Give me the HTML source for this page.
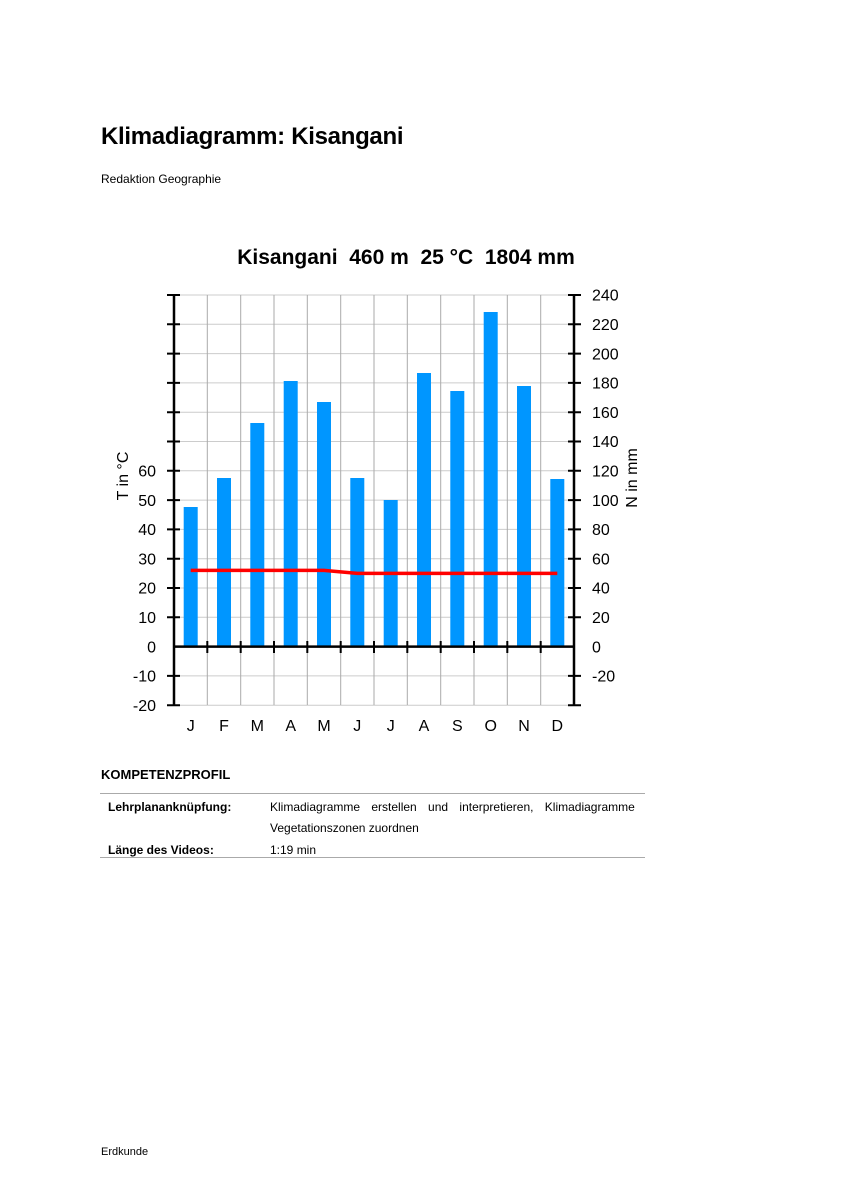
<!DOCTYPE html>
<html><head><meta charset="utf-8"><style>
body{margin:0;background:#fff;font-family:"Liberation Sans",sans-serif;}
.p{position:relative;width:849px;height:1200px;overflow:hidden;}
.a{position:absolute;white-space:nowrap;}
</style></head><body><div class="p">
<div class="a" style="left:101px;top:123px;font-size:24px;font-weight:bold;letter-spacing:-0.3px;">Klimadiagramm: Kisangani</div>
<div class="a" style="left:101px;top:172px;font-size:12px;">Redaktion Geographie</div>
<div class="a" style="left:101px;top:767px;font-size:13px;font-weight:bold;">KOMPETENZPROFIL</div>
<div class="a" style="left:100px;top:793px;width:545px;border-top:1px solid #aaa;"></div>
<div class="a" style="left:108px;top:800px;font-size:12px;font-weight:bold;">Lehrplananknüpfung:</div>
<div class="a" style="left:270px;top:800px;font-size:12px;word-spacing:8px;">Klimadiagramme erstellen und interpretieren, Klimadiagramme</div>
<div class="a" style="left:270px;top:821px;font-size:12px;">Vegetationszonen zuordnen</div>
<div class="a" style="left:108px;top:843px;font-size:12px;font-weight:bold;">Länge des Videos:</div>
<div class="a" style="left:270px;top:843px;font-size:12px;">1:19 min</div>
<div class="a" style="left:100px;top:857px;width:545px;border-top:1px solid #aaa;"></div>
<div class="a" style="left:101px;top:1146px;font-size:11px;">Erdkunde</div>
<svg class="a" style="left:0;top:0" width="849" height="1200" font-family="Liberation Sans, sans-serif">
<text x="406" y="264" font-size="21" font-weight="bold" text-anchor="middle" style="white-space:pre" xml:space="preserve">Kisangani  460 m  25 °C  1804 mm</text>
<g stroke="#ccc" stroke-width="1">
<line x1="174" x2="574" y1="295" y2="295"/><line x1="174" x2="574" y1="324.3" y2="324.3"/><line x1="174" x2="574" y1="353.6" y2="353.6"/><line x1="174" x2="574" y1="382.9" y2="382.9"/><line x1="174" x2="574" y1="412.2" y2="412.2"/><line x1="174" x2="574" y1="441.5" y2="441.5"/><line x1="174" x2="574" y1="470.8" y2="470.8"/><line x1="174" x2="574" y1="500.1" y2="500.1"/><line x1="174" x2="574" y1="529.4" y2="529.4"/><line x1="174" x2="574" y1="558.7" y2="558.7"/><line x1="174" x2="574" y1="588" y2="588"/><line x1="174" x2="574" y1="617.3" y2="617.3"/><line x1="174" x2="574" y1="675.9" y2="675.9"/><line x1="174" x2="574" y1="705.2" y2="705.2"/>
</g>
<g stroke="#aaa" stroke-width="1">
<line y1="295" y2="705" x1="207.3" x2="207.3"/><line y1="295" y2="705" x1="240.7" x2="240.7"/><line y1="295" y2="705" x1="274" x2="274"/><line y1="295" y2="705" x1="307.3" x2="307.3"/><line y1="295" y2="705" x1="340.7" x2="340.7"/><line y1="295" y2="705" x1="374" x2="374"/><line y1="295" y2="705" x1="407.3" x2="407.3"/><line y1="295" y2="705" x1="440.7" x2="440.7"/><line y1="295" y2="705" x1="474" x2="474"/><line y1="295" y2="705" x1="507.3" x2="507.3"/><line y1="295" y2="705" x1="540.7" x2="540.7"/>
</g>
<g fill="#0096ff">
<rect x="183.7" y="507" width="14" height="139.6"/><rect x="217" y="478" width="14" height="168.6"/><rect x="250.3" y="423" width="14" height="223.6"/><rect x="283.7" y="381" width="14" height="265.6"/><rect x="317" y="402" width="14" height="244.6"/><rect x="350.3" y="478" width="14" height="168.6"/><rect x="383.7" y="500" width="14" height="146.6"/><rect x="417" y="373" width="14" height="273.6"/><rect x="450.3" y="391" width="14" height="255.6"/><rect x="483.7" y="312" width="14" height="334.6"/><rect x="517" y="386" width="14" height="260.6"/><rect x="550.3" y="479" width="14" height="167.6"/>
</g>
<polyline points="190.7,570.4 324,570.4 357.3,573.4 557.3,573.4" fill="none" stroke="#f00" stroke-width="3.5"/>
<g stroke="#000" stroke-width="2.5">
<line x1="174" x2="174" y1="294" y2="706"/><line x1="574" x2="574" y1="294" y2="706"/><line x1="174" x2="574" y1="646.6" y2="646.6"/>
</g>
<g stroke="#000" stroke-width="2">
<path d="M167 295h13M167 324.3h13M167 353.6h13M167 382.9h13M167 412.2h13M167 441.5h13M167 470.8h13M167 500.1h13M167 529.4h13M167 558.7h13M167 588h13M167 617.3h13M167 675.9h13M167 705.2h13"/>
<path d="M568 295h13M568 324.3h13M568 353.6h13M568 382.9h13M568 412.2h13M568 441.5h13M568 470.8h13M568 500.1h13M568 529.4h13M568 558.7h13M568 588h13M568 617.3h13M568 675.9h13M568 705.2h13"/>
<path d="M207.3 641v12M240.7 641v12M274 641v12M307.3 641v12M340.7 641v12M374 641v12M407.3 641v12M440.7 641v12M474 641v12M507.3 641v12M540.7 641v12"/>
</g>
<g font-size="16" text-anchor="end">
<text x="156" y="476.5">60</text><text x="156" y="505.8">50</text><text x="156" y="535">40</text><text x="156" y="564.4">30</text><text x="156" y="593.7">20</text><text x="156" y="623">10</text><text x="156" y="652.3">0</text><text x="156" y="681.6">-10</text><text x="156" y="710.9">-20</text>
</g>
<g font-size="16">
<text x="592" y="300.7">240</text><text x="592" y="330">220</text><text x="592" y="359.3">200</text><text x="592" y="388.6">180</text><text x="592" y="417.9">160</text><text x="592" y="447.2">140</text><text x="592" y="476.5">120</text><text x="592" y="505.8">100</text><text x="592" y="535">80</text><text x="592" y="564.4">60</text><text x="592" y="593.7">40</text><text x="592" y="623">20</text><text x="592" y="652.3">0</text><text x="592" y="681.6">-20</text>
</g>
<text transform="translate(128,476) rotate(-90)" font-size="16" text-anchor="middle">T in °C</text>
<text transform="translate(637,478) rotate(-90)" font-size="16" text-anchor="middle">N in mm</text>
<g font-size="16" text-anchor="middle">
<text x="190.7" y="731">J</text><text x="224" y="731">F</text><text x="257.3" y="731">M</text><text x="290.7" y="731">A</text><text x="324" y="731">M</text><text x="357.3" y="731">J</text><text x="390.7" y="731">J</text><text x="424" y="731">A</text><text x="457.3" y="731">S</text><text x="490.7" y="731">O</text><text x="524" y="731">N</text><text x="557.3" y="731">D</text>
</g>
</svg>
</div></body></html>
